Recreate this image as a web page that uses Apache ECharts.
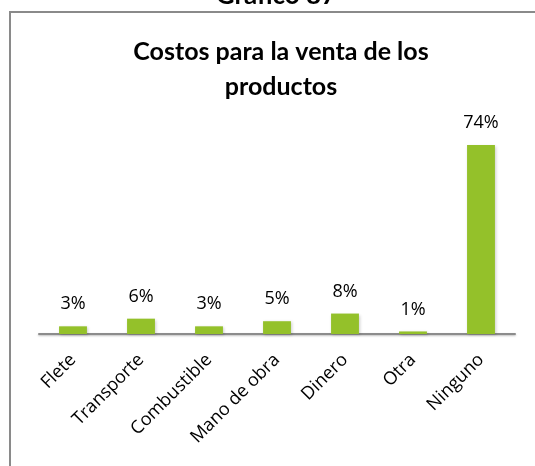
<!DOCTYPE html>
<html>
<head>
<meta charset="utf-8">
<script src="https://cdn.jsdelivr.net/npm/echarts@6/dist/echarts.min.js"></script>
<style>
html,body{margin:0;padding:0;background:#fff;}
#c{width:535px;height:466px;}
</style>
</head>
<body>
<div id="c"></div>
<script>
const categories = ["Flete", "Transporte", "Combustible", "Mano de obra", "Dinero", "Otra", "Ninguno"];
const values = [3, 6, 3, 5, 8, 1, 74];
const chartTitle = "Costos para la venta de los\nproductos";
const outerTitle = "Gráfico 87";

const chart = echarts.init(document.getElementById('c'), null, {renderer: 'canvas'});
chart.setOption({
  animation: false,
  backgroundColor: '#ffffff',
  title: {
    text: chartTitle,
    left: 276,
    textAlign: 'center',
    top: 29,
    textStyle: {fontFamily: 'Lato', fontWeight: 'bold', fontSize: 25, lineHeight: 35, color: '#000'}
  },
  graphic: [
    {type: 'rect', shape: {x: 10, y: 12, width: 540, height: 470}, style: {fill: 'none', stroke: '#8a8a8a', lineWidth: 2}, z: 100},
    {type: 'text', x: 276, y: -17, style: {text: outerTitle, fontFamily: 'Lato', fontWeight: 'bold', fontSize: 26, fill: '#000', align: 'center', verticalAlign: 'top'}}
  ],
  grid: {left: 39, right: 20, top: 104, bottom: 132, containLabel: false},
  xAxis: {
    type: 'category',
    data: categories,
    axisLine: {lineStyle: {color: '#8c8c8c', width: 2, shadowColor: 'rgba(0,0,0,0.25)', shadowBlur: 2, shadowOffsetY: 1}},
    axisTick: {show: false},
    axisLabel: {rotate: 45, margin: 23, fontFamily: 'Open Sans', fontSize: 18, color: '#000', interval: 0}
  },
  yAxis: {
    type: 'value', min: 0, max: 90, show: false, splitLine: {show: false}
  },
  series: [{
    type: 'bar',
    data: values,
    barWidth: '41%',
    itemStyle: {color: '#94c12a', shadowColor: 'rgba(0,0,0,0.2)', shadowBlur: 3, shadowOffsetX: 1, shadowOffsetY: 1},
    label: {show: true, position: 'top', distance: 13, formatter: '{c}%', fontFamily: 'Open Sans', fontSize: 18, color: '#000'}
  }]
});
</script>
</body>
</html>
